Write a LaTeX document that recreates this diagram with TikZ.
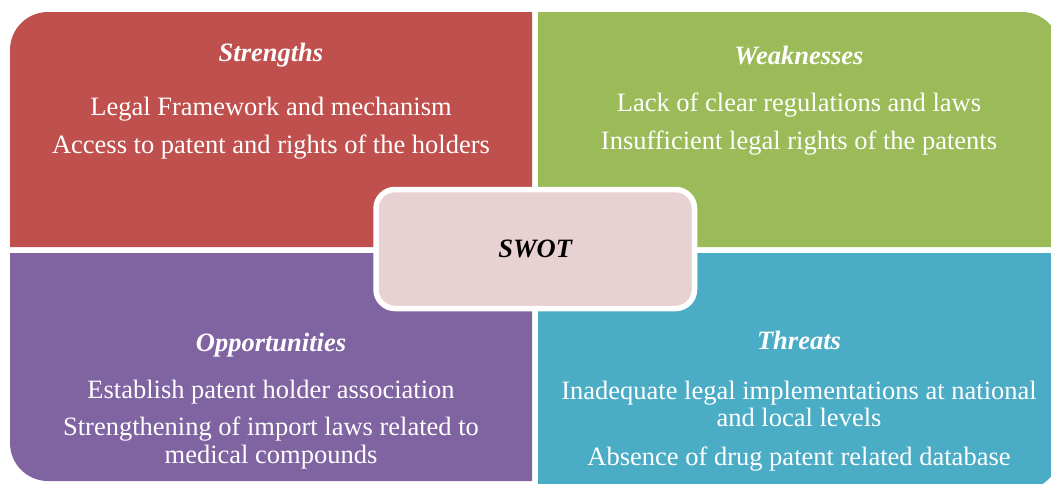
\documentclass[tikz,border=0pt]{standalone}
\usepackage{fontspec}
\setmainfont{Liberation Serif}
\definecolor{sred}{HTML}{C0504D}
\definecolor{sgreen}{HTML}{9BBB59}
\definecolor{spurple}{HTML}{8064A2}
\definecolor{sblue}{HTML}{4BACC6}
\definecolor{spink}{HTML}{E8D1D2}
\begin{document}
\begin{tikzpicture}[x=1pt,y=-1pt,
  txt/.style={text=white, anchor=base, inner sep=0pt, font=\fontsize{26.5}{27.5}\selectfont},
  ttl/.style={txt, font=\fontsize{26.5}{27.5}\selectfont\bfseries\itshape},
  centrebox/.style={draw=white, line width=5.5pt, fill=spink, rounded corners=19pt,
    minimum width=318.5pt, minimum height=119pt, inner sep=0pt,
    font=\fontsize{26.5}{27.5}\selectfont\bfseries\itshape, text=black}]
\clip (0,0) rectangle (1051,483);
% quadrants
\fill[sred] (10,247) -- (10,50) arc[start angle=180,end angle=270,radius=38] -- (532,12) -- (532,247) -- cycle;
\fill[sgreen] (538,247) -- (538,12) -- (1022,12) arc[start angle=270,end angle=360,radius=38] -- (1060,247) -- cycle;
\fill[spurple] (532,253) -- (10,253) -- (10,443) arc[start angle=180,end angle=90,radius=38] -- (532,481) -- cycle;
\fill[sblue] (538,253) -- (1060,253) -- (1060,452) arc[start angle=0,end angle=90,radius=38] -- (538,490) -- cycle;
% texts
\node[ttl] (st) at (271,61.7) {Strengths};
\node[txt] (s1) at (271,115) {Legal Framework and mechanism};
\node[txt] (s2) at (271,153.3) {Access to patent and rights of the holders};
\node[ttl] (wt) at (799,64.3) {Weaknesses};
\node[txt] (w1) at (799,111.7) {Lack of clear regulations and laws};
\node[txt] (w2) at (799,149) {Insufficient legal rights of the patents};
\node[ttl] (ot) at (271,351.7) {Opportunities};
\node[txt] (o1) at (271,398.3) {Establish patent holder association};
\node[txt] (o2a) at (271,435.7) {Strengthening of import laws related to};
\node[txt] (o2b) at (271,463.3) {medical compounds};
\node[ttl] (tt) at (799,349.3) {Threats};
\node[txt] (t1a) at (799,399.3) {Inadequate legal implementations at national};
\node[txt] (t1b) at (799,426.7) {and local levels};
\node[txt] (t2) at (799,465.7) {Absence of drug patent related database};
% centre
\node[centrebox] (swot) at (535.25,249) {SWOT};
\end{tikzpicture}
\end{document}
